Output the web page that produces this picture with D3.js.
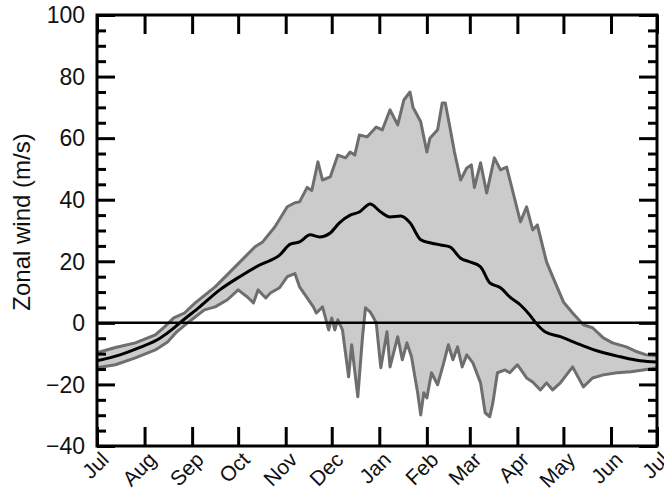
<!DOCTYPE html>
<html>
<head>
<meta charset="utf-8">
<script src="https://cdn.jsdelivr.net/npm/d3@7"></script>
<style>
  body { margin: 0; background: #fff; }
  text { font-family: "Liberation Sans", Arial, Helvetica, sans-serif; fill: #111; }
</style>
</head>
<body>
<div id="chart"></div>
<script>
// day offsets from 1 July
const upperDays = [0, 12, 25, 38, 44, 50, 57, 64, 77, 90, 103, 108, 116, 124, 129, 132, 137, 140, 144, 147, 152, 157, 162, 165, 168, 171, 176, 182, 186, 191, 196, 200, 204, 206, 211, 215, 217, 222, 225, 227, 230, 233, 237, 241, 244, 246, 250, 254, 259, 263, 267, 276, 280, 284, 287, 293, 297, 304, 310, 317, 323, 330, 336, 345, 352, 358, 365];
const upperWind = [-9.7, -8, -6.5, -3.9, -1.3, 1.6, 3.2, 6.5, 11.7, 18.2, 24.7, 26.3, 31.2, 37.7, 39, 39.3, 44, 43, 52.3, 46.4, 47.4, 54.5, 53.6, 55.5, 54.5, 61, 60.4, 63.6, 62.7, 69.2, 64.3, 72.4, 75, 70, 65.3, 55.5, 60, 62.7, 71.4, 71.4, 63.6, 55.5, 46.4, 50.3, 51.3, 44, 52, 42.2, 53.6, 49.7, 50.6, 32.8, 37.7, 30.2, 31.8, 19.8, 15, 6.8, 3.2, -0.6, -1.6, -4.9, -6.5, -7.8, -9.4, -10.4, -10.7];

const lowerDays = [0, 12, 25, 38, 46, 52, 59, 64, 70, 77, 85, 92, 98, 102, 105, 110, 113, 119, 124, 129, 132, 137, 141, 143, 147, 151, 153, 155, 157, 160, 164, 166, 170, 173, 175, 178, 180, 182, 185, 189, 191, 196, 199, 202, 205, 207, 209, 211, 213, 215, 218, 222, 226, 229, 232, 235, 238, 241, 245, 250, 253, 256, 258, 261, 266, 269, 274, 280, 284, 289, 293, 297, 302, 306, 310, 317, 323, 330, 339, 348, 356, 365];
const lowerWind = [-14.6, -13.6, -11.4, -8.8, -6.2, -2.9, 0, 1.9, 4.2, 5.2, 7.5, 10.7, 8.4, 6.5, 10.7, 8.1, 9.7, 11.4, 15, 16, 11.7, 8.1, 5.2, 3.2, 5.2, -2.3, 1.6, -2.3, 1, -2.3, -17.5, -7.1, -24, -4.9, 4.9, 3.6, 1.9, 0, -14.6, -2.9, -14.3, -4.5, -12, -6.5, -11, -16.9, -22.7, -29.9, -22.7, -24.4, -16.2, -20.1, -13, -7.1, -12, -7.8, -14.3, -10.4, -13, -19.5, -29.2, -30.5, -26, -16.2, -15.3, -16.2, -13.6, -17.9, -19.2, -21.8, -19.5, -21.8, -19.5, -16.9, -14.3, -20.8, -17.9, -16.9, -16.2, -15.9, -15.3, -14.6];

const meanDays = [0, 15, 28, 41, 51, 54, 67, 80, 93, 106, 119, 126, 132, 139, 145, 152, 158, 165, 171, 178, 185, 191, 198, 204, 211, 217, 224, 230, 237, 243, 250, 256, 263, 269, 276, 282, 286, 292, 302, 315, 328, 341, 354, 365];
const meanWind = [-12.3, -10.4, -8, -5, -1.3, 0, 5.2, 10.7, 15, 18.8, 22, 25.6, 26.3, 28.6, 27.9, 29.2, 32.5, 35, 36, 38.6, 36, 34.4, 34.7, 32.5, 27, 26, 25.3, 24.7, 21, 19.8, 18.2, 13, 11.4, 8.4, 5.8, 2.6, 0, -2.9, -4.5, -7.1, -9.4, -11, -12.3, -12.7];

const monthLabels = ["Jul", "Aug", "Sep", "Oct", "Nov", "Dec", "Jan", "Feb", "Mar", "Apr", "May", "Jun", "Jul"];
const yMajor = [-40, -20, 0, 20, 40, 60, 80, 100];
const yMinor = [-35, -30, -25, -15, -10, -5, 5, 10, 15, 25, 30, 35, 45, 50, 55, 65, 70, 75, 85, 90, 95];

const W = 664, H = 491;
const margin = {top: 15, right: 7, bottom: 45, left: 97};
const pw = W - margin.left - margin.right;
const ph = H - margin.top - margin.bottom;

const start = new Date(2001, 6, 1);
const end = new Date(2002, 6, 1);
const dayToDate = d => d3.timeDay.offset(start, d);

const x = d3.scaleTime().domain([start, end]).range([0, pw]);
const y = d3.scaleLinear().domain([-40, 100]).range([ph, 0]);

const svg = d3.select("#chart").append("svg")
  .attr("width", W)
  .attr("height", H);

const g = svg.append("g")
  .attr("transform", `translate(${margin.left},${margin.top})`);

const upperPts = upperDays.map((d, i) => [dayToDate(d), upperWind[i]]);
const lowerPts = lowerDays.map((d, i) => [dayToDate(d), lowerWind[i]]);
const meanPts = meanDays.map((d, i) => [dayToDate(d), meanWind[i]]);

const line = d3.line()
  .x(d => x(d[0]))
  .y(d => y(d[1]));

// shaded spread between max and min
g.append("path")
  .attr("d", line(upperPts.concat(lowerPts.slice().reverse())) + "Z")
  .attr("fill", "#cbcbcb")
  .attr("stroke", "none");

g.append("path")
  .attr("d", line(upperPts))
  .attr("fill", "none")
  .attr("stroke", "#6e6e6e")
  .attr("stroke-width", 3)
  .attr("stroke-linejoin", "round");

g.append("path")
  .attr("d", line(lowerPts))
  .attr("fill", "none")
  .attr("stroke", "#6e6e6e")
  .attr("stroke-width", 3)
  .attr("stroke-linejoin", "round");

// zero line
g.append("line")
  .attr("x1", 0).attr("x2", pw)
  .attr("y1", y(0)).attr("y2", y(0))
  .attr("stroke", "#000")
  .attr("stroke-width", 2.5);

g.append("path")
  .attr("d", line.curve(d3.curveMonotoneX)(meanPts))
  .attr("fill", "none")
  .attr("stroke", "#000")
  .attr("stroke-width", 3)
  .attr("stroke-linejoin", "round");

// axes: ticks pointing inward on all four sides
const monthTicks = d3.timeMonth.range(start, d3.timeDay.offset(end, 1));

const axStyle = sel => {
  sel.select(".domain").remove();
  sel.selectAll(".tick line").attr("stroke", "#000").attr("stroke-width", 3);
  sel.selectAll(".tick text").remove();
};

g.append("g")
  .attr("transform", `translate(0,${ph})`)
  .call(d3.axisBottom(x).tickValues(monthTicks).tickSizeInner(-19).tickSizeOuter(0))
  .call(axStyle);

g.append("g")
  .call(d3.axisTop(x).tickValues(monthTicks).tickSizeInner(-19).tickSizeOuter(0))
  .call(axStyle);

g.append("g")
  .call(d3.axisLeft(y).tickValues(yMajor).tickSizeInner(-18).tickSizeOuter(0))
  .call(axStyle);
g.append("g")
  .call(d3.axisLeft(y).tickValues(yMinor).tickSizeInner(-9).tickSizeOuter(0))
  .call(axStyle);
g.append("g")
  .attr("transform", `translate(${pw},0)`)
  .call(d3.axisRight(y).tickValues(yMajor).tickSizeInner(-18).tickSizeOuter(0))
  .call(axStyle);
g.append("g")
  .attr("transform", `translate(${pw},0)`)
  .call(d3.axisRight(y).tickValues(yMinor).tickSizeInner(-9).tickSizeOuter(0))
  .call(axStyle);

// frame
g.append("rect")
  .attr("width", pw)
  .attr("height", ph)
  .attr("fill", "none")
  .attr("stroke", "#000")
  .attr("stroke-width", 3);

// y tick labels
g.selectAll(".ylab")
  .data(yMajor)
  .join("text")
  .attr("class", "ylab")
  .attr("x", -12)
  .attr("y", d => y(d))
  .attr("dy", "0.36em")
  .attr("text-anchor", "end")
  .attr("font-size", 23)
  .text(d => d < 0 ? "\u2212" + Math.abs(d) : d);

// month labels, rotated
g.selectAll(".xlab")
  .data(monthTicks)
  .join("text")
  .attr("class", "xlab")
  .attr("text-anchor", "end")
  .attr("font-size", 21)
  .attr("transform", d => `translate(${x(d) + 13},${ph + 15}) rotate(-45)`)
  .text((d, i) => monthLabels[i]);

svg.append("text")
  .attr("transform", `translate(30,222) rotate(-90)`)
  .attr("text-anchor", "middle")
  .attr("font-size", 24)
  .text("Zonal wind (m/s)");
</script>
</body>
</html>
